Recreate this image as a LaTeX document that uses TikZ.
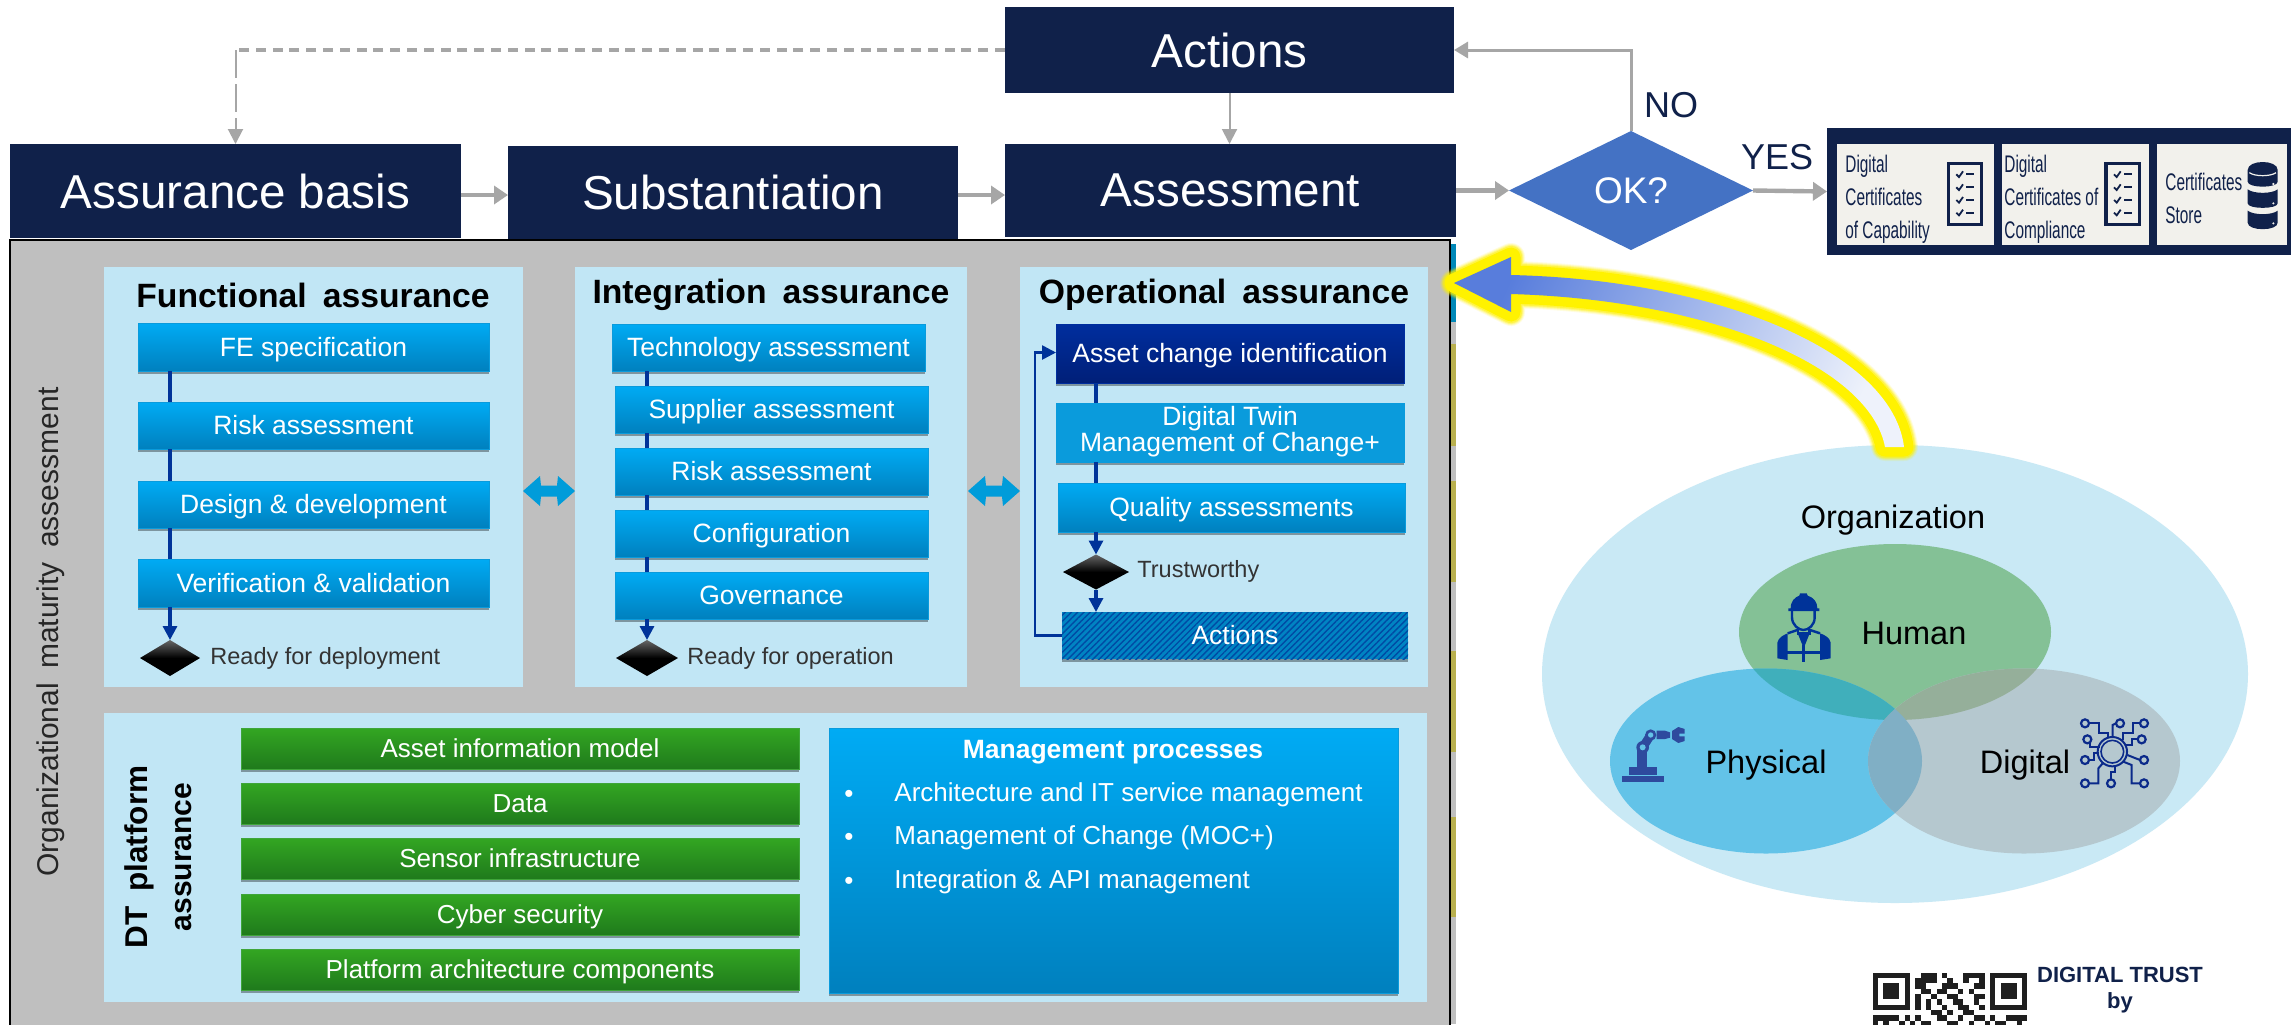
\documentclass[tikz,border=0pt]{standalone}
\usepackage{fontspec}
\setmainfont{Liberation Sans}
\newfontfamily\certfont[FakeStretch=0.64]{Liberation Sans}
\usetikzlibrary{arrows.meta,shapes.geometric,shadows,patterns.meta,calc}
\definecolor{navy}{HTML}{10214A}
\definecolor{panelgrey}{HTML}{BFBFBF}
\definecolor{panellight}{HTML}{C1E6F5}
\definecolor{flowline}{HTML}{003399}
\definecolor{conn}{HTML}{A6A6A6}
\definecolor{stripteal}{HTML}{0088B8}
\definecolor{stripolive}{HTML}{B9B04F}
\definecolor{certbg}{HTML}{F2F1EC}
\definecolor{blueT}{HTML}{00ABF4}
\definecolor{blueB}{HTML}{0080BE}
\definecolor{blueE}{HTML}{0A9BDC}
\definecolor{greenT}{HTML}{33A622}
\definecolor{greenB}{HTML}{1F7A1C}
\definecolor{greenE}{HTML}{3FA53A}
\definecolor{twowayc}{HTML}{009CDA}
\definecolor{org}{HTML}{C9E9F5}
\definecolor{vhuman}{HTML}{84C196}
\definecolor{vphys}{HTML}{63C3E8}
\definecolor{vdig}{HTML}{B5C8CF}
\definecolor{robot}{HTML}{2E4A9E}
\definecolor{chip}{HTML}{0B2A8A}
\definecolor{darkT}{HTML}{002E9E}
\definecolor{darkB}{HTML}{001F78}
\definecolor{okblue}{HTML}{4472C4}
\definecolor{hp}{HTML}{40AFBB}
\definecolor{hd}{HTML}{95AF9A}
\definecolor{pd}{HTML}{80AFC5}
\definecolor{glowL}{HTML}{587DDC}
\definecolor{glowR}{HTML}{EEF2FB}
\newcommand{\pxf}[2]{\fontsize{\fpeval{#1/2}pt}{\fpeval{#2/2}pt}\selectfont}
\newcommand{\rbox}[7]{\node[plain, #6, minimum width={(#4-#2)*0.5pt}, minimum height={(#5-#3)*0.5pt}] (#1) at ({(#2+#4)/2},{(#3+#5)/2}) {#7};}
\newcommand{\twoarrow}[2]{\fill[twowayc] ({#1-26},#2) -- ({#1-9},{#2-15}) -- ({#1-8},{#2-5.5}) -- ({#1+8},{#2-5.5}) -- ({#1+9},{#2-15}) -- ({#1+26},#2) -- ({#1+9},{#2+15}) -- ({#1+8},{#2+5.5}) -- ({#1-8},{#2+5.5}) -- ({#1-9},{#2+15}) -- cycle;}
\tikzset{
  plain/.style={rectangle, inner sep=0pt, outer sep=0pt},
  navybox/.style={fill=navy, text=white, font=\pxf{47.6}{56}},
  panel/.style={fill=panellight},
  softshadow/.style={drop shadow={shadow xshift=0pt, shadow yshift=-1.5pt, fill=black, opacity=.35}},
  lowstrut/.style={execute at begin node={\vrule width 0pt height 13pt depth 3.7pt\relax}},
  midstrut/.style={execute at begin node={\vphantom{Ag}}},
  bluebox/.style={top color=blueT, bottom color=blueB, draw=blueE, line width=.4pt, text=white, align=center, font=\pxf{26.5}{23.5}, softshadow, lowstrut},
  greenbox/.style={top color=greenT, bottom color=greenB, draw=greenE, line width=.4pt, text=white, align=center, font=\pxf{26}{30}, softshadow, lowstrut},
  titletext/.style={font=\bfseries\pxf{33.7}{38}, text=black, inner sep=0pt},
  notetext/.style={font=\pxf{23.5}{28}, text=black!80, inner sep=0pt, anchor=west},
  gate/.style={diamond, inner sep=0pt, outer sep=0pt, top color=black!60, bottom color=black, middle color=black},
  flow/.style={draw=flowline, line width=1.6pt},
  flowtip/.style={flow, -{Triangle[length=7pt,width=7pt]}},
  link/.style={draw=conn, line width=1pt, -{Triangle[length=7.5pt,width=7.5pt]}},
  linkfat/.style={draw=conn, line width=2.2pt, -{Triangle[length=7pt,width=9pt]}},
  mitem/.style={font=\pxf{26}{30}, text=white, inner sep=0pt, anchor=west},
  certtext/.style={font=\certfont\pxf{24}{33}, text=navy, align=left, inner sep=0pt, anchor=west},
  vennlabel/.style={font=\pxf{32.5}{38}, text=black, inner sep=0pt},
  ans/.style={font=\pxf{36}{42}, text=navy, inner sep=0pt},
}
\begin{document}
\begin{tikzpicture}[x=0.5pt,y=-0.5pt]
\useasboundingbox (0,0) rectangle (2291,1024);
\fill[white] (0,0) rectangle (2291,1024);
\begin{scope}
\clip (0,0) rectangle (2291,1024);

% strip right of the main panel
\fill[stripteal] (1450,244) rectangle (1456,322);
\fill[panelgrey] (1450,322) rectangle (1456,1024);
\fill[stripolive] (1450,344) rectangle (1456,446);
\fill[stripolive] (1450,481) rectangle (1456,582);
\fill[stripolive] (1450,651) rectangle (1456,752);
\fill[stripolive] (1450,817) rectangle (1456,917);

% top boxes
\rbox{actions}{1005}{7}{1454}{93}{navybox}{Actions}
\rbox{basis}{10}{144}{461}{238}{navybox}{Assurance basis}
\rbox{subst}{508}{146}{958}{239}{navybox}{Substantiation}
\rbox{assess}{1005}{144}{1456}{237}{navybox}{Assessment}

% main grey panel
\fill[panelgrey] (10,240) rectangle (1450,1030);
\draw[black,line width=.9pt] (10,1030) -- (10,240) -- (1450,240) -- (1450,1030);
\node[font=\pxf{30}{36}, rotate=90, inner sep=0pt, text=black!85] (orgmat) at (51,632) {Organizational\hspace{.2em} maturity\hspace{.2em} assessment};

% functional panel
\rbox{pfunc}{104}{267}{523}{687}{panel}{}
\node[titletext] (tfunc) at (313,295) {Functional\hspace{.2em} assurance};
\rbox{f1}{138}{323}{489}{371}{bluebox}{FE specification}
\rbox{f2}{138}{402}{489}{449}{bluebox}{Risk assessment}
\rbox{f3}{138}{481}{489}{528}{bluebox}{Design \& development}
\rbox{f4}{138}{559}{489}{607}{bluebox}{Verification \& validation}
\node[gate, minimum width=30pt, minimum height=18pt] (fgate) at (170,658) {};
\node[notetext] (fnote) at (210,658) {Ready for deployment};
\coordinate (fx) at (170,0);
\draw[flow] (f1.south -| fx) -- (f2.north -| fx);
\draw[flow] (f2.south -| fx) -- (f3.north -| fx);
\draw[flow] (f3.south -| fx) -- (f4.north -| fx);
\draw[flowtip] (f4.south -| fx) -- (fgate.north);

% integration panel
\rbox{pint}{575}{267}{967}{687}{panel}{}
\node[titletext] (tint) at (771,295) {Integration\hspace{.2em} assurance};
\rbox{i1}{612}{324}{925}{371}{bluebox}{Technology assessment}
\rbox{i2}{615}{386}{928}{433}{bluebox}{Supplier assessment}
\rbox{i3}{615}{448}{928}{495}{bluebox}{Risk assessment}
\rbox{i4}{615}{510}{928}{557}{bluebox}{Configuration}
\rbox{i5}{615}{572}{928}{619}{bluebox}{Governance}
\node[gate, minimum width=31pt, minimum height=18pt] (igate) at (647,658) {};
\node[notetext] (inote) at (687,658) {Ready for operation};
\coordinate (ix) at (647,0);
\draw[flow] (i1.south -| ix) -- (i2.north -| ix);
\draw[flow] (i2.south -| ix) -- (i3.north -| ix);
\draw[flow] (i3.south -| ix) -- (i4.north -| ix);
\draw[flow] (i4.south -| ix) -- (i5.north -| ix);
\draw[flowtip] (i5.south -| ix) -- (igate.north);

% operational panel
\rbox{pop}{1020}{267}{1428}{687}{panel}{}
\node[titletext] (top) at (1224,295) {Operational\hspace{.2em} assurance};
\rbox{o1}{1056}{324}{1404}{383}{bluebox, midstrut, top color=darkT, bottom color=darkB, draw=darkT}{Asset change identification}
\rbox{o2}{1056}{403}{1404}{462}{bluebox, midstrut, top color=blueE, bottom color=blueE}{Digital Twin\\Management of Change+}
\rbox{o3}{1058}{483}{1405}{532}{bluebox, midstrut}{Quality assessments}
\node[gate, minimum width=33pt, minimum height=17.5pt] (ogate) at (1096,572) {};
\node[notetext] (onote) at (1137,571) {Trustworthy};
\node[plain, minimum width=173pt, minimum height=23.5pt, softshadow, preaction={fill=blueB!90!blueT}, pattern={Lines[angle=45,distance=2.2pt,line width=.7pt]}, pattern color=flowline!70!blueB, text=white, font=\pxf{26.5}{30}] (o4) at (1235,635.5) {Actions};
\coordinate (ox) at (1096,0);
\draw[flow] (o1.south -| ox) -- (o2.north -| ox);
\draw[flow] (o2.south -| ox) -- (o3.north -| ox);
\draw[flowtip] (o3.south -| ox) -- (ogate.north);
\draw[flowtip] (ogate.south) -- (o4.north -| ox);
\coordinate (ofb) at (1035,0);
\draw[flow, line width=1.3pt, -{Triangle[length=7pt,width=7pt]}] (o4.west) -- (o4.west -| ofb) |- ($(o1.west)+(0,-1)$);

% two-way arrows
\twoarrow{549}{491}
\twoarrow{994}{491}

% DT platform panel
\rbox{pdt}{104}{713}{1427}{1002}{panel}{}
\node[font=\bfseries\pxf{31.5}{36}, rotate=90, inner sep=0pt] (tdt1) at (139,857) {DT\hspace{.2em} platform};
\node[font=\bfseries\pxf{30}{36}, rotate=90, inner sep=0pt] (tdt2) at (184,857) {assurance};
\rbox{g1}{241}{728}{799}{769}{greenbox}{Asset information model}
\rbox{g2}{241}{783}{799}{824}{greenbox}{Data}
\rbox{g3}{241}{838}{799}{879}{greenbox}{Sensor infrastructure}
\rbox{g4}{241}{894}{799}{935}{greenbox}{Cyber security}
\rbox{g5}{241}{949}{799}{990}{greenbox}{Platform architecture components}
\rbox{mgmt}{829}{728}{1398}{993}{bluebox}{}
\node[font=\bfseries\pxf{26.5}{30}, text=white, inner sep=0pt] (mt) at (1113,752) {Management processes};
\node[mitem, anchor=center] (b1) at (849,796) {•};
\node[mitem, anchor=center] (b2) at (849,839) {•};
\node[mitem, anchor=center] (b3) at (849,883) {•};
\node[mitem] (m1) at (894,795) {\vphantom{Ag}Architecture and IT service management};
\node[mitem] (m2) at (894,838) {\vphantom{Ag}Management of Change (MOC+)};
\node[mitem] (m3) at (894,882) {\vphantom{Ag}Integration \& API management};

% right side: decision and certificates
\node[diamond, inner sep=0pt, outer sep=0pt, fill=okblue, minimum width=122pt, minimum height=59.5pt, text=white, font=\pxf{37}{44}] (ok) at (1631,190.5) {OK?};
\rbox{cert}{1827}{128}{2300}{255}{fill=navy}{}
\rbox{c1}{1837}{144}{1994}{245}{fill=certbg}{}
\rbox{c2}{2002}{144}{2149}{245}{fill=certbg}{}
\rbox{c3}{2157}{144}{2287}{245}{fill=certbg}{}
\node[certtext] (ct1) at (1845,199) {Digital\\Certificates\\of Capability};
\node[certtext] (ct2) at (2004,199) {Digital\\Certificates of\\Compliance};
\node[certtext] (ct3) at (2165,198) {Certificates\\Store};
\node[ans] (no) at (1671,105) {NO};
\node[ans] (yes) at (1777,157) {YES};

% connectors
\coordinate (ymid) at (0,195);
\coordinate (dashc) at (basis.north |- actions.west);
\draw[draw=conn, line width=2.4pt, dash pattern=on 5pt off 3.4pt] (actions.west) -- (dashc);
\draw[draw=conn, line width=1pt, dash pattern=on 14pt off 3pt, -{Triangle[length=7.5pt,width=7.5pt]}] (dashc) -- (basis.north);
\draw[link] (actions.south) -- (actions.south |- assess.north);
\draw[linkfat] (basis.east |- ymid) -- (subst.west |- ymid);
\draw[linkfat] (subst.east |- ymid) -- (assess.west |- ymid);
\draw[linkfat] (assess.east) -- (ok.west);
\draw[linkfat] (ok.east) -- (cert.west);
\draw[draw=conn, line width=1.5pt, -{Triangle[length=7pt,width=8pt]}] (ok.north) |- (actions.east);

% checklist icons
\foreach \ox in {0,-473} {
\begin{scope}[shift={(1930,140)},xshift={(\ox)*0.16667pt},x=0.16667pt,y=-0.16667pt]
  \draw[navy,line width=1.7pt] (528,70) rectangle (628,253);
  \foreach \yy in {103,142,180,218} {
    \draw[navy,line width=.9pt] (552,\yy) -- (560,\yy+8) -- (572,\yy-9);
    \draw[navy,line width=1pt] (582,\yy) -- (605,\yy);
  }
\end{scope}
}
% database icon
\begin{scope}[shift={(1930,140)},x=0.16667pt,y=-0.16667pt]
  \fill[navy] (953,90) .. controls (953,58) and (1043,58) .. (1043,90) -- (1043,125) .. controls (1043,145) and (953,145) .. (953,125) -- cycle;
  \fill[navy] (953,148) .. controls (970,162) and (1026,162) .. (1043,148) -- (1043,190) .. controls (1043,208) and (953,208) .. (953,190) -- cycle;
  \fill[navy] (953,212) .. controls (970,226) and (1026,226) .. (1043,212) -- (1043,248) .. controls (1043,274) and (953,274) .. (953,248) -- cycle;
  \draw[certbg,line width=.6pt] (958,98) .. controls (975,110) and (1021,110) .. (1038,98);
  \fill[certbg] (1030,132) circle (3.5);
  \fill[certbg] (1030,190) circle (3.5);
  \fill[certbg] (1030,250) circle (3.5);
\end{scope}

% organization Venn
\node[ellipse, inner sep=0pt, outer sep=0pt, fill=org, minimum width=353pt, minimum height=229pt] (vorg) at (1895,674) {};
\fill[vhuman] (1895,632) ellipse [x radius=156, y radius=88];
\fill[vphys] (1766,761) ellipse [x radius=156, y radius=92.5];
\fill[vdig] (2024,761) ellipse [x radius=156, y radius=92.5];
\begin{scope}
  \clip (1895,632) ellipse [x radius=156, y radius=88];
  \fill[hp] (1766,761) ellipse [x radius=156, y radius=92.5];
  \fill[hd] (2024,761) ellipse [x radius=156, y radius=92.5];
\end{scope}
\begin{scope}
  \clip (1766,761) ellipse [x radius=156, y radius=92.5];
  \fill[pd] (2024,761) ellipse [x radius=156, y radius=92.5];
\end{scope}
\node[vennlabel] (torg) at (1893,520) {Organization};
\node[vennlabel] (thum) at (1914,633) {Human};
\node[vennlabel] (tphy) at (1766,765) {Physical};
\node[vennlabel] (tdig) at (2025,765) {Digital};

% human icon
\begin{scope}[shift={(1760,580)},x=0.16667pt,y=-0.16667pt]
  \fill[flowline] (92,85) .. controls (92,62) and (105,52) .. (118,47) -- (120,40) -- (140,40) -- (143,47) .. controls (160,52) and (172,65) .. (172,85) -- (178,85) -- (178,93) -- (85,93) -- (85,85) -- cycle;
  \draw[flowline,line width=1.2pt] (96,92) -- (96,112) .. controls (96,135) and (116,150) .. (130,150) .. controls (146,150) and (164,135) .. (164,112) -- (164,92);
  \draw[flowline,line width=1.2pt] (114,146) -- (114,160) -- (148,160) -- (148,146);
  \fill[flowline] (52,235) -- (52,188) .. controls (54,172) and (75,163) .. (83,160) -- (83,240) -- cycle;
  \fill[flowline] (212,235) -- (212,188) .. controls (210,172) and (190,163) .. (180,160) -- (180,240) -- cycle;
  \fill[flowline] (113,160) -- (149,160) -- (131,205) -- cycle;
  \draw[flowline,line width=1.2pt] (131,195) -- (131,245);
  \draw[flowline,line width=1.2pt] (80,217) -- (184,217);
  \draw[flowline,line width=1.2pt] (83,160) -- (112,150);
  \draw[flowline,line width=1.2pt] (180,160) -- (150,150);
\end{scope}
% robot icon
\begin{scope}[shift={(1610,715)},x=0.16667pt,y=-0.16667pt]
  \fill[robot] (36,182) rectangle (162,200);
  \fill[robot] (57,157) rectangle (140,180);
  \fill[robot] (82,100) rectangle (112,160);
  \draw[robot,line width=4.4pt] (98,97) -- (122,60);
  \fill[robot] (98,97) circle (19);
  \fill[vphys] (98,97) circle (9);
  \fill[robot] (122,60) circle (17);
  \fill[vphys] (122,60) circle (8);
  \fill[robot] (140,47) -- (165,47) -- (180,52) -- (180,68) -- (165,72) -- (140,72) -- cycle;
  \fill[robot] (186,48) -- (205,36) -- (224,42) -- (224,56) -- (208,56) -- (208,64) -- (224,64) -- (224,78) -- (205,84) -- (186,72) -- cycle;
\end{scope}
% circuit icon
\begin{scope}[shift={(2070,705)},x=0.16667pt,y=-0.16667pt]
  \draw[chip,line width=1pt] (127,140) circle (44);
  \draw[chip,line width=.8pt] (127,140) circle (34);
  \foreach \px/\py in {45/55,150/55,222/55,52/103,215/103,45/165,222/165,45/235,123/235,222/235}
    \draw[chip,line width=1.1pt] (\px,\py) circle (12);
  \draw[chip,line width=1pt] (57,55) -- (88,55) -- (88,85) -- (113,85) -- (113,98);
  \draw[chip,line width=1pt] (128,95) -- (128,60) -- (138,55);
  \draw[chip,line width=1pt] (210,55) -- (190,55) -- (190,85) -- (160,85) -- (160,105);
  \draw[chip,line width=1pt] (203,103) -- (185,103) -- (185,120) -- (168,120);
  \draw[chip,line width=1pt] (60,112) -- (60,125) -- (90,125);
  \draw[chip,line width=1pt] (57,165) -- (72,165) -- (72,145) -- (83,145);
  \draw[chip,line width=1pt] (210,165) -- (172,150);
  \draw[chip,line width=1pt] (57,235) -- (85,235) -- (85,190) -- (98,175);
  \draw[chip,line width=1pt] (123,223) -- (123,200) -- (135,200) -- (135,185);
  \draw[chip,line width=1pt] (210,235) -- (185,235) -- (185,180) -- (160,170);
\end{scope}

% glowing arrow
\def\glowpath{(1454,283) -- (1511,257) -- (1511,275) .. controls (1725,280) and (1893,355) .. (1904,447) -- (1885,447) .. controls (1870,368) and (1715,300) .. (1511,294) -- (1511,312) -- cycle}
\draw[yellow,line join=round,line width=14pt,opacity=.12] \glowpath;
\draw[yellow,line join=round,line width=13pt,opacity=.2] \glowpath;
\draw[yellow,line join=round,line width=12pt,opacity=.3] \glowpath;
\draw[yellow,line join=round,line width=11pt,opacity=.45] \glowpath;
\draw[yellow,fill=yellow,line join=round,line width=9.5pt] \glowpath;
\shade[left color=glowL, right color=glowR, shading angle=65] \glowpath;

% QR code
\begin{scope}[shift={(1872.67,972.67)}]
  \def\qm{5.33}
  \foreach \fx in {0,22} {
    \fill[black!88] ({\fx*\qm},0) rectangle ({(\fx+7)*\qm},{7*\qm});
    \fill[white] ({(\fx+1)*\qm},{\qm}) rectangle ({(\fx+6)*\qm},{6*\qm});
    \fill[black!88] ({(\fx+2)*\qm},{2*\qm}) rectangle ({(\fx+5)*\qm},{5*\qm});
  }
  \foreach \rw/\cs in {0/{9,10,11,13,17,18,19,20},1/{8,9,10,11,14,17,20},2/{8,9,13,14,15,19,20},3/{9,10,12,13,16,18},4/{8,11,14,15,19,20},5/{8,10,12,15,16,19},6/{8,10,13,16,17,20},7/{11,12,14,17,18},8/{0,1,2,3,4,6,8,12,13,16,19,20,22,25,26,27,28},9/{0,2,5,7,9,10,14,15,18,21,23,24,27}}
    \foreach \cc in \cs
      \fill[black!88] ({\cc*\qm},{\rw*\qm}) rectangle ({(\cc+1)*\qm},{(\rw+1)*\qm});
\end{scope}
\node[font=\bfseries\pxf{22}{28}, text=navy, inner sep=0pt] (dt1) at (2120,975) {DIGITAL TRUST};
\node[font=\bfseries\pxf{22}{28}, text=navy, inner sep=0pt] (dt2) at (2120,1003) {by};
\end{scope}
\end{tikzpicture}
\end{document}
